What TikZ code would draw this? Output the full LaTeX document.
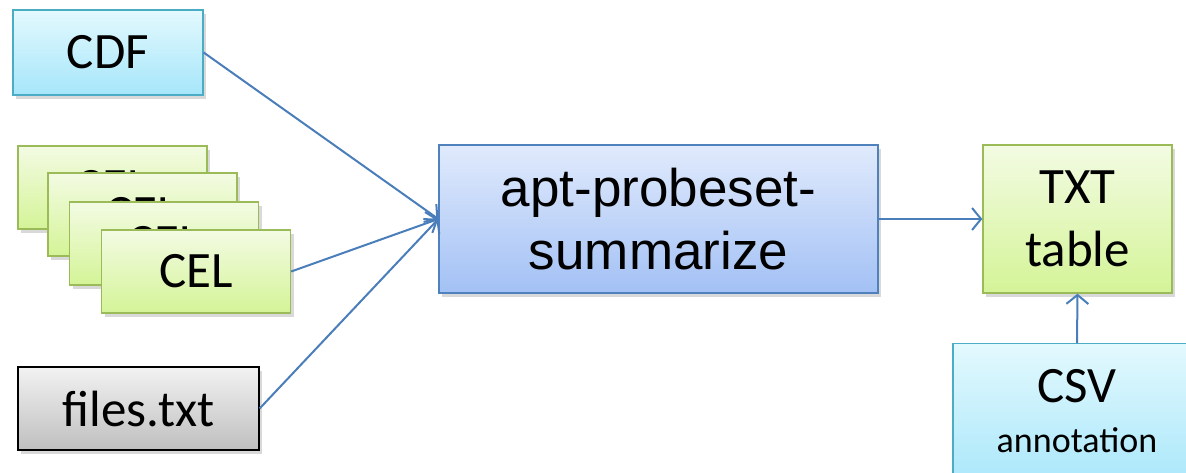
\documentclass[tikz,border=0pt]{standalone}
\usepackage{fontspec}
\setmainfont{Carlito}
\newfontfamily\arialf{Liberation Sans}
\usetikzlibrary{arrows.meta,shadows}
\definecolor{lineblue}{HTML}{4A7EBB}
\definecolor{cyanedge}{HTML}{4BACC6}
\definecolor{cyantop}{HTML}{E3F9FE}
\definecolor{cyanbot}{HTML}{A6E6FA}
\definecolor{greenedge}{HTML}{9BBB59}
\definecolor{greentop}{HTML}{F3FBE3}
\definecolor{greenbot}{HTML}{D4F497}
\definecolor{bluetop}{HTML}{E0EAFC}
\definecolor{bluebot}{HTML}{A3C1F5}
\definecolor{blueedge}{HTML}{4F81BD}
\definecolor{graytop}{HTML}{F2F2F2}
\definecolor{graybot}{HTML}{BFBFBF}
\tikzset{
  x=1pt,y=-1pt,
  boxbase/.style={rectangle, inner sep=0pt, line width=1.3pt, align=center,
    drop shadow={opacity=0.3, shadow xshift=3pt, shadow yshift=-4pt},
    font=\fontsize{51}{63}\selectfont},
  cyanbox/.style={boxbase, draw=cyanedge, top color=cyantop, bottom color=cyanbot},
  greenbox/.style={boxbase, draw=greenedge, top color=greentop, bottom color=greenbot},
  graybox/.style={boxbase, draw=black, top color=graytop, bottom color=graybot},
  bluebox/.style={boxbase, draw=blueedge, top color=bluetop, bottom color=bluebot,
    font=\arialf\fontsize{53}{63}\selectfont},
  conn/.style={draw=lineblue, line width=2pt, -{Straight Barb[length=9pt,width=22pt,line width=2pt]}}
}
\begin{document}
\begin{tikzpicture}
\useasboundingbox (0,0) rectangle (1186,472);
\clip (0,0) rectangle (1186,472);
\node[cyanbox, minimum width=190pt, minimum height=85pt] (cdf) at (108,52.5) {CDF};
\node[greenbox, minimum width=189pt, minimum height=83pt] (cel1) at (112.5,187.5) {CEL};
\node[greenbox, minimum width=189pt, minimum height=83pt] (cel2) at (142.5,214.5) {CEL};
\node[greenbox, minimum width=189pt, minimum height=83pt] (cel3) at (164,243.5) {CEL};
\node[greenbox, minimum width=189pt, minimum height=83pt] (cel4) at (196,271.5) {CEL};
\node[graybox, minimum width=241pt, minimum height=83pt] (files) at (138.5,408.5) {files.txt};
\node[bluebox, minimum width=439pt, minimum height=148pt] (apt) at (658.5,219) {apt-probeset-\\summarize};
\node[greenbox, minimum width=189pt, minimum height=148pt] (txt) at (1077.5,219) {TXT\\table};
\node[cyanbox, minimum width=248pt, minimum height=150pt, anchor=north] (csv) at (1077,343) {};
\node[font=\fontsize{51}{60}\selectfont, anchor=base] (csvt) at (1077,402) {CSV};
\node[font=\fontsize{36}{40}\selectfont, anchor=base] (csva) at (1077,452) {annotation};
\draw[conn] (cdf.east) -- (apt.west);
\draw[conn] (cel4.east) -- (apt.west);
\draw[conn] (files.east) -- (apt.west);
\draw[conn] (apt.east) -- (txt.west);
\draw[conn] (csv.north) -- (txt.south);
\end{tikzpicture}
\end{document}
